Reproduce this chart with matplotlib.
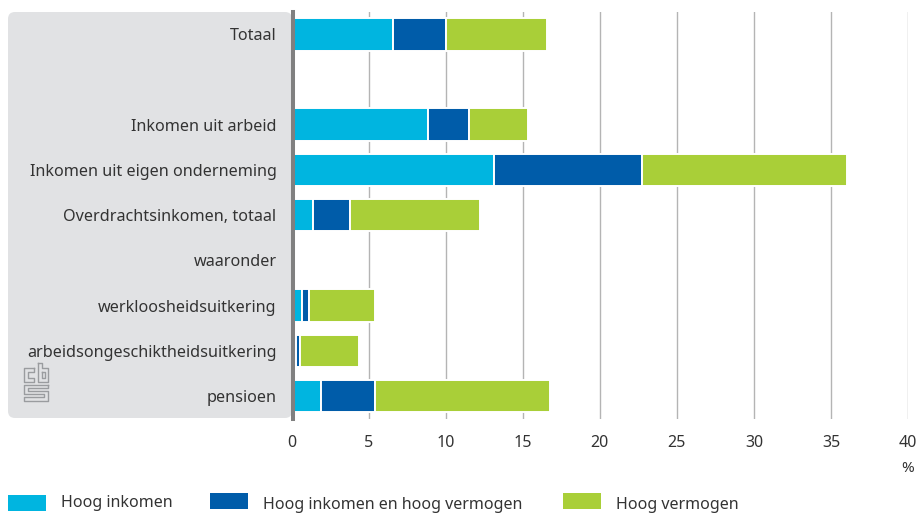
import matplotlib
matplotlib.use("Agg")
import matplotlib.pyplot as plt
from matplotlib.lines import Line2D
from matplotlib.patches import FancyBboxPatch, Rectangle

W, H = 918, 513

categories = [
    "Totaal",
    "",
    "Inkomen uit arbeid",
    "Inkomen uit eigen onderneming",
    "Overdrachtsinkomen, totaal",
    "waaronder",
    "werkloosheidsuitkering",
    "arbeidsongeschiktheidsuitkering",
    "pensioen",
]
hoog_inkomen = [6.6, 0, 8.85, 13.15, 1.4, 0, 0.65, 0.3, 1.9]
hoog_beide = [3.4, 0, 2.65, 9.6, 2.4, 0, 0.45, 0.25, 3.5]
hoog_vermogen = [6.6, 0, 3.85, 13.3, 8.4, 0, 4.3, 3.85, 11.4]
x_ticks = [0, 5, 10, 15, 20, 25, 30, 35, 40]

CYAN = "#00b5e0"
BLUE = "#005ca9"
GREEN = "#a9cf38"
TEXT = "#333333"

plt.rcParams["font.family"] = ["Noto Sans", "DejaVu Sans"]


def fx(px):
    return px / W


def fy(py):
    return 1 - py / H


fig = plt.figure(figsize=(W / 100, H / 100), dpi=100)

# grey label panel behind the axes
panel = FancyBboxPatch(
    (8, H - 418), 284, 406, boxstyle="round,pad=0,rounding_size=7",
    transform=None, fc="#e1e2e4", ec="none", zorder=0,
)
fig.add_artist(panel)

ax = fig.add_axes([fx(291.6), fy(418.6), fx(908 - 291.6), (418.6 - 11.7) / H])
ax.patch.set_alpha(0)

y = list(range(len(categories)))
lefts = [0.0] * len(y)
for values, colour in [(hoog_inkomen, CYAN), (hoog_beide, BLUE), (hoog_vermogen, GREEN)]:
    ax.barh(y, values, left=lefts, height=0.72, color=colour,
            edgecolor="white", linewidth=1.4, zorder=3)
    lefts = [a + b for a, b in zip(lefts, values)]

ax.set_xlim(0, 40)
ax.set_ylim(8.5, -0.5)
ax.set_xticks(x_ticks)
ax.set_yticks(y, categories)
ax.grid(axis="x", color="#b4b4b4", linewidth=1.0, zorder=1)
ax.set_axisbelow(True)
ax.tick_params(axis="y", length=0, pad=12, labelsize=11.65, labelcolor=TEXT)
ax.tick_params(axis="x", length=0, pad=12, labelsize=11.5, labelcolor=TEXT)
for label in ax.get_yticklabels():
    label.set_y(label.get_position()[1])
for name in ["top", "right", "bottom"]:
    ax.spines[name].set_visible(False)
ax.spines["left"].set_color("#808080")
ax.spines["left"].set_linewidth(2.9)
ax.spines["left"].set_position(("outward", -1.1))
ax.spines["left"].set_zorder(5)

fig.text(fx(908), fy(469), "%", ha="center", va="center", fontsize=11, color=TEXT)

# legend sits on slightly uneven rows, so placed by hand
legend = [
    (8, 495, 61, 503, CYAN, "Hoog inkomen"),
    (210, 493, 263, 505, BLUE, "Hoog inkomen en hoog vermogen"),
    (563, 493, 616, 505, GREEN, "Hoog vermogen"),
]
for bx, by, tx, ty, colour, label in legend:
    fig.add_artist(Rectangle((bx, H - by - 16), 38, 16, transform=None, fc=colour, ec="none"))
    fig.text(fx(tx), fy(ty), label, ha="left", va="center", fontsize=11.55, color=TEXT)

# cbs logo
logo_paths = [
    [(34, 368), (24, 368), (24, 382), (34, 382), (34, 378), (28, 378), (28, 372), (34, 372), (34, 368)],
    [(38, 363), (38, 382), (48, 382), (48, 368), (42, 368), (42, 363), (38, 363)],
    [(42, 372), (45, 372), (45, 378), (42, 378), (42, 372)],
    [(48, 385), (24, 385), (24, 394), (44, 394), (44, 397), (24, 397), (24, 401),
     (48, 401), (48, 391), (28, 391), (28, 388), (48, 388), (48, 385)],
]
for path in logo_paths:
    xs = [fx(p[0]) for p in path]
    ys = [fy(p[1]) for p in path]
    fig.add_artist(Line2D(xs, ys, color="#9a9c9f", linewidth=1.0))

fig.savefig("out.png", dpi=100)
